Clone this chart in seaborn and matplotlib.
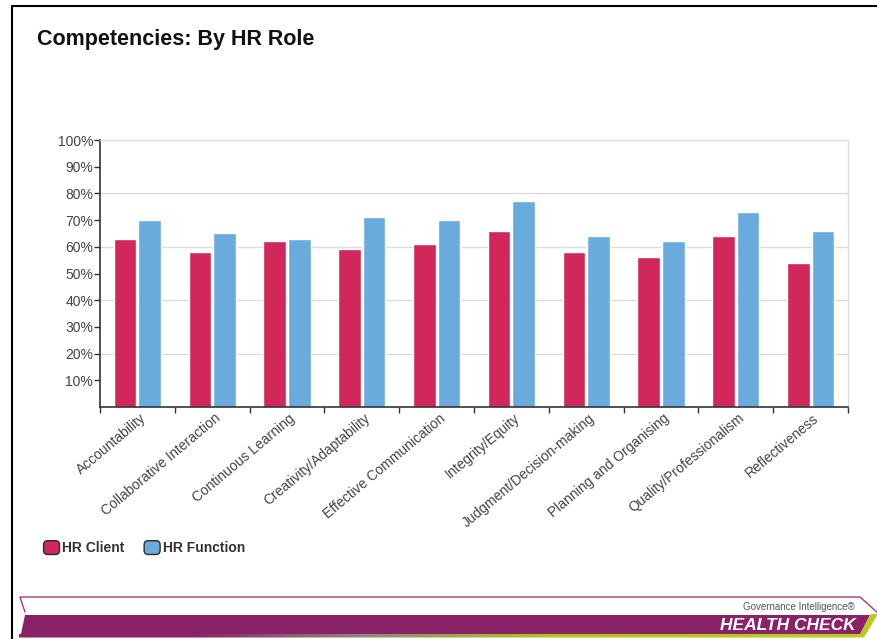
import numpy as np
import pandas as pd
import matplotlib
matplotlib.use("Agg")
import matplotlib.pyplot as plt
import matplotlib.transforms as mtransforms
from matplotlib.patches import Polygon, FancyBboxPatch, Patch
from matplotlib.legend_handler import HandlerBase
from matplotlib.colors import LinearSegmentedColormap
import seaborn as sns

# ---- data ----
competencies = ["Accountability", "Collaborative Interaction", "Continuous Learning",
                "Creativity/Adaptability", "Effective Communication", "Integrity/Equity",
                "Judgment/Decision-making", "Planning and Organising",
                "Quality/Professionalism", "Reflectiveness"]
hr_client = [63, 58, 62, 59, 61, 66, 58, 56, 64, 54]
hr_function = [70, 65, 63, 71, 70, 77, 64, 62, 73, 66]
series_names = ["HR Client", "HR Function"]
series_colors = ["#D1275B", "#6AABDD"]
y_ticks = [10, 20, 30, 40, 50, 60, 70, 80, 90, 100]
title = "Competencies: By HR Role"

df = pd.DataFrame({
    "Competency": competencies * 2,
    "Score": hr_client + hr_function,
    "Role": [series_names[0]] * len(competencies) + [series_names[1]] * len(competencies),
})

sns.set_theme(style="white")
plt.rcParams["font.family"] = ["Liberation Sans", "DejaVu Sans"]

W, H = 878, 639
fig = plt.figure(figsize=(W / 100, H / 100), dpi=100)
fig.patch.set_facecolor("white")

# main axes in pixel placement
x0, x1, yb, yt = 100, 848, 407, 140
ax = fig.add_axes([x0 / W, 1 - yb / H, (x1 - x0) / W, (yb - yt) / H])

sns.barplot(data=df, x="Competency", y="Score", hue="Role", order=competencies,
            hue_order=series_names, palette=series_colors, width=0.66, gap=0.08,
            saturation=1, ax=ax, legend=False)

ax.set_ylim(0, 100)
ax.set_xlim(-0.5, len(competencies) - 0.5)
ax.set_xlabel("")
ax.set_ylabel("")
ax.set_yticks(y_ticks)
ax.set_yticklabels([f"{v}%" for v in y_ticks], fontsize=10, color="#444444")
for g in [20, 40, 60, 80, 100]:
    ax.axhline(g, color="#DDDDDD", lw=1, zorder=0)

ax.tick_params(axis="y", left=True, length=4, width=1, color="#333333", pad=1)
ax.set_xticks(range(len(competencies)))
ax.set_xticklabels(competencies, rotation=40, ha="right", rotation_mode="anchor",
                   fontsize=10, color="#444444")
ax.tick_params(axis="x", which="major", length=0, pad=3)
ax.set_xticks(np.arange(-0.5, len(competencies)), minor=True)
ax.tick_params(axis="x", which="minor", bottom=True, length=4, width=1, color="#333333")
offset = mtransforms.ScaledTranslation(2 / 100, 0, fig.dpi_scale_trans)
for lbl in ax.get_xticklabels():
    lbl.set_transform(lbl.get_transform() + offset)

for s in ["left", "bottom"]:
    ax.spines[s].set_color("#333333")
    ax.spines[s].set_linewidth(1.2)
for s in ["top", "right"]:
    ax.spines[s].set_color("#DDDDDD")
    ax.spines[s].set_linewidth(1)

# title
fig.text(37 / W, 1 - 40 / H, title, fontsize=15.5, fontweight="bold", color="#111111",
         va="center", ha="left")

# legend with rounded squares
class RoundHandler(HandlerBase):
    def create_artists(self, legend, orig_handle, xdescent, ydescent, width, height, fontsize, trans):
        p = FancyBboxPatch((-xdescent, -ydescent), width, height,
                           boxstyle="round,pad=0,rounding_size=3",
                           fc=orig_handle.get_facecolor(), ec="#2A2A2A", lw=1, transform=trans)
        return [p]

handles = [Patch(facecolor=c, label=n) for c, n in zip(series_colors, series_names)]
leg = fig.legend(handles=handles, loc="center left", bbox_to_anchor=(38 / W, 1 - 548 / H),
                 ncol=2, frameon=False, handlelength=1.15, handleheight=1.15,
                 handletextpad=0.2, columnspacing=1.4, borderaxespad=0,
                 handler_map={Patch: RoundHandler()},
                 prop={"size": 10, "weight": "bold"})
for t in leg.get_texts():
    t.set_color("#333333")

# overlay for frame + footer
ov = fig.add_axes([0, 0, 1, 1], facecolor="none")
ov.set_xlim(0, W)
ov.set_ylim(H, 0)
ov.axis("off")
ov.plot([12, W], [6, 6], color="black", lw=1.5)
ov.plot([12, 12], [6, H], color="black", lw=1.5)

# footer band outline
ov.plot([25, 20, 860, 878], [612, 597, 597, 613], color="#A33C7E", lw=1)
# gradient strip under purple band
grad = np.linspace(0, 1, 256).reshape(1, -1)
cmap = LinearSegmentedColormap.from_list(
    "g", [(0, "#8A2267"), (0.2, "#8A2267"), (0.4, "#8E8A7A"), (0.62, "#B4C41E"), (1, "#B9CB1E")])
strip = Polygon([(19, 637.5), (864, 637.5), (878, 614), (871, 614), (860, 634), (19, 634)],
                closed=True, fc="none", ec="none")
ov.add_patch(strip)
im = ov.imshow(grad, extent=(19, 878, 638, 612), cmap=cmap, aspect="auto", zorder=1)
im.set_clip_path(strip)
# purple band
ov.add_patch(Polygon([(25, 615), (870, 615), (860, 634), (21, 634)],
                     closed=True, fc="#8A2267", ec="none", zorder=2))
ov.text(855, 607, "Governance Intelligence\u00ae", fontsize=7, color="#555555",
        ha="right", va="center", zorder=3)
ov.text(856, 625, "HEALTH CHECK", fontsize=12.5, color="white", fontweight="bold",
        fontstyle="italic", ha="right", va="center", zorder=3)
ov.set_xlim(0, W)
ov.set_ylim(H, 0)

fig.savefig("out.png", dpi=100)
